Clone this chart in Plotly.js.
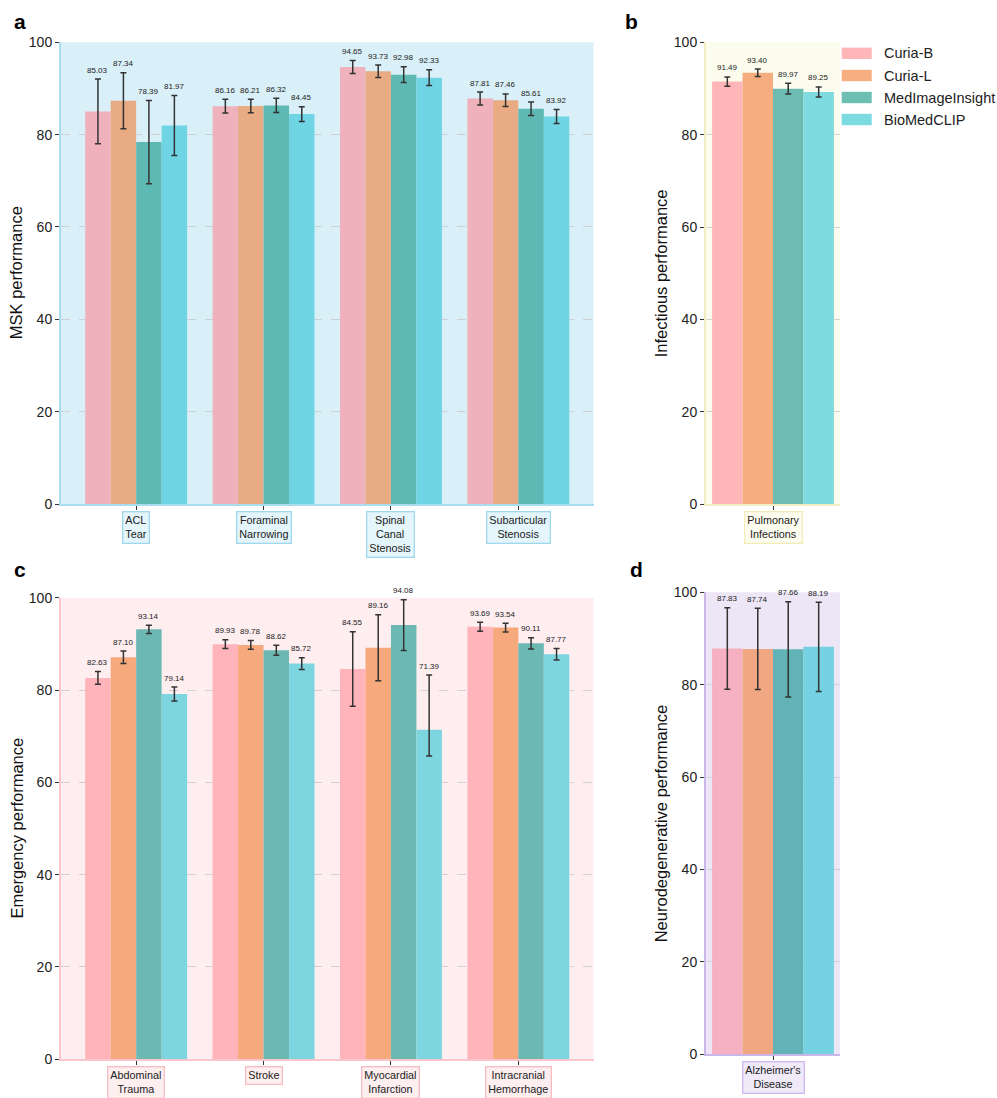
<!DOCTYPE html>
<html>
<head>
<meta charset="utf-8">
<script src="https://cdn.plot.ly/plotly-3.0.1.min.js"></script>
<style>html,body{margin:0;padding:0;background:#fff;}#chart{width:997px;height:1098px;}</style>
</head>
<body>
<div id="chart"></div>
<script>
// ---------- DATA ----------
const models = ["Curia-B", "Curia-L", "MedImageInsight", "BioMedCLIP"];

const mskCategories = ["ACL<br>Tear", "Foraminal<br>Narrowing", "Spinal<br>Canal<br>Stenosis", "Subarticular<br>Stenosis"];
const mskCuriaB = [85.03, 86.16, 94.65, 87.81];
const mskCuriaL = [87.34, 86.21, 93.73, 87.46];
const mskMII    = [78.39, 86.32, 92.98, 85.61];
const mskBMC    = [81.97, 84.45, 92.33, 83.92];
const mskErrCuriaB = [7.0, 1.5, 1.4, 1.4];
const mskErrCuriaL = [6.05, 1.45, 1.35, 1.35];
const mskErrMII    = [9.0, 1.55, 1.7, 1.45];
const mskErrBMC    = [6.5, 1.6, 1.7, 1.5];

const infCategories = ["Pulmonary<br>Infections"];
const infCuriaB = [91.49];
const infCuriaL = [93.40];
const infMII    = [89.97];
const infBMC    = [89.25];
const infErrCuriaB = [1.0];
const infErrCuriaL = [0.8];
const infErrMII    = [1.15];
const infErrBMC    = [1.1];

const emCategories = ["Abdominal<br>Trauma", "Stroke", "Myocardial<br>Infarction", "Intracranial<br>Hemorrhage"];
const emCuriaB = [82.63, 89.93, 84.55, 93.69];
const emCuriaL = [87.10, 89.78, 89.16, 93.54];
const emMII    = [93.14, 88.62, 94.08, 90.11];
const emBMC    = [79.14, 85.72, 71.39, 87.77];
const emErrCuriaB = [1.4, 0.95, 8.05, 0.97];
const emErrCuriaL = [1.35, 0.95, 7.15, 0.95];
const emErrMII    = [0.9, 1.1, 5.5, 1.2];
const emErrBMC    = [1.5, 1.25, 11.86, 1.25];
const emErrBMCLow = [1.5, 1.25, 5.7, 1.25];

const neuCategories = ["Alzheimer's<br>Disease"];
const neuCuriaB = [87.83];
const neuCuriaL = [87.74];
const neuMII    = [87.66];
const neuBMC    = [88.19];
const neuErrCuriaB = [8.83];
const neuErrCuriaL = [8.8];
const neuErrMII    = [10.3];
const neuErrBMC    = [9.65];

const yTicks = [0, 20, 40, 60, 80, 100];
const legendColors = ["#ffb6b9", "#f7ae80", "#6dbfb3", "#7cdae1"];

// ---------- STYLE ----------
const W = 997, H = 1098;
const FONT = "Liberation Sans, Arial, Helvetica, sans-serif";
const px2x = p => p / W;
const py2y = p => 1 - p / H;

const panels = [
  {
    id: "", letter: "a", cats: mskCategories,
    vals: [mskCuriaB, mskCuriaL, mskMII, mskBMC],
    errs: [mskErrCuriaB, mskErrCuriaL, mskErrMII, mskErrBMC],
    errsLow: [mskErrCuriaB, mskErrCuriaL, mskErrMII, mskErrBMC],
    colors: ["#efb2bc", "#e8ab84", "#5eb8b3", "#6fd5e4"],
    bg: "#daf0f8", spine: "#a9dcef", boxBorder: "#9fd8ee", boxBg: "#e4f5fb",
    xpx: [61, 593.5], ypx: [42.3, 504], range: [-0.59, 3.59],
    title: "MSK performance", titleX: 16, letterX: 12, letterY: 21
  },
  {
    id: "2", letter: "b", cats: infCategories,
    vals: [infCuriaB, infCuriaL, infMII, infBMC],
    errs: [infErrCuriaB, infErrCuriaL, infErrMII, infErrBMC],
    errsLow: [infErrCuriaB, infErrCuriaL, infErrMII, infErrBMC],
    colors: ["#ffb6b8", "#f5ad80", "#6cbcb1", "#7edbe0"],
    bg: "#fcfcee", spine: "#f2eec4", boxBorder: "#f1ecb8", boxBg: "#fdfdef",
    xpx: [706, 840], ypx: [42.3, 504.3], range: [-0.44, 0.44],
    title: "Infectious performance", titleX: 661, letterX: 623, letterY: 21
  },
  {
    id: "3", letter: "c", cats: emCategories,
    vals: [emCuriaB, emCuriaL, emMII, emBMC],
    errs: [emErrCuriaB, emErrCuriaL, emErrMII, emErrBMC],
    errsLow: [emErrCuriaB, emErrCuriaL, emErrMII, emErrBMCLow],
    colors: ["#ffb3ba", "#f5a97d", "#6bb9b2", "#7dd6df"],
    bg: "#ffeef0", spine: "#f8c6cc", boxBorder: "#f6bcc3", boxBg: "#fdeef0",
    xpx: [61, 593.5], ypx: [597.7, 1059.3], range: [-0.59, 3.59],
    title: "Emergency performance", titleX: 16, letterX: 12, letterY: 569.5
  },
  {
    id: "4", letter: "d", cats: neuCategories,
    vals: [neuCuriaB, neuCuriaL, neuMII, neuBMC],
    errs: [neuErrCuriaB, neuErrCuriaL, neuErrMII, neuErrBMC],
    errsLow: [neuErrCuriaB, neuErrCuriaL, neuErrMII, neuErrBMC],
    colors: ["#f5b1c1", "#f1a781", "#62b3b5", "#75d2e2"],
    bg: "#ece6f6", spine: "#c9b7ea", boxBorder: "#cdb8ef", boxBg: "#efe9f8",
    xpx: [706, 840], ypx: [592.3, 1054.3], range: [-0.44, 0.44],
    title: "Neurodegenerative performance", titleX: 661, letterX: 628, letterY: 569.5
  }
];

const data = [];
const shapes = [];
const annotations = [];
const layout = {
  width: W, height: H,
  margin: {l: 0, r: 0, t: 0, b: 0},
  paper_bgcolor: "#ffffff",
  plot_bgcolor: "rgba(0,0,0,0)",
  barmode: "overlay",
  showlegend: false,
  font: {family: FONT, color: "#222"},
  shapes: shapes,
  annotations: annotations
};

panels.forEach(p => {
  const xa = "x" + p.id, ya = "y" + p.id;
  const idx = p.cats.map((c, i) => i);
  p.vals.forEach((v, k) => {
    data.push({
      type: "bar", x: idx, y: v, width: 0.2, offset: -0.4 + 0.2 * k,
      name: models[k], xaxis: xa, yaxis: ya,
      marker: {color: p.colors[k], line: {width: 0}},
      error_y: {type: "data", symmetric: false, array: p.errs[k], arrayminus: p.errsLow[k],
                color: "#333333", thickness: 1.5, width: 3},
      hoverinfo: "skip", showlegend: false
    });
    v.forEach((val, i) => {
      annotations.push({
        xref: xa, yref: ya, x: i - 0.3 + 0.2 * k, y: val + p.errs[k][i],
        yshift: 9, text: val.toFixed(2), showarrow: false,
        xanchor: "center", yanchor: "middle",
        font: {family: FONT, size: 8, color: "#222"}
      });
    });
  });
  // background
  shapes.push({type: "rect", xref: xa + " domain", yref: ya + " domain", x0: 0, x1: 1, y0: 0, y1: 1,
               fillcolor: p.bg, line: {width: 0}, layer: "below"});
  const xk = "xaxis" + p.id, yk = "yaxis" + p.id;
  layout[xk] = {
    domain: [px2x(p.xpx[0]), px2x(p.xpx[1])], range: p.range, anchor: ya,
    tickvals: idx, showticklabels: false, ticks: "outside", ticklen: 4, tickwidth: 1, tickcolor: "#333",
    showgrid: false, zeroline: false, showline: true, linecolor: p.spine, linewidth: 1.5, fixedrange: true
  };
  layout[yk] = {
    domain: [py2y(p.ypx[1]), py2y(p.ypx[0])], range: [0, 100], anchor: xa,
    tickvals: yTicks, ticks: "outside", ticklen: 4, tickwidth: 1, tickcolor: "#333",
    tickfont: {family: FONT, size: 14, color: "#222"},
    showgrid: true, gridcolor: "#c9c9c9", griddash: "dash", gridwidth: 0.8,
    zeroline: false, showline: true, linecolor: p.spine, linewidth: 2, fixedrange: true
  };
  // category label boxes
  p.cats.forEach((c, i) => {
    annotations.push({
      xref: xa, yref: "paper", x: i, y: py2y(p.ypx[1]), yshift: -7,
      xanchor: "center", yanchor: "top", text: c, showarrow: false, align: "center",
      font: {family: FONT, size: 10.8, color: "#222"},
      bordercolor: p.boxBorder, borderwidth: 1.3, borderpad: 2, bgcolor: p.boxBg
    });
  });
  // y title
  annotations.push({
    xref: "paper", yref: "paper", x: px2x(p.titleX), y: py2y((p.ypx[0] + p.ypx[1]) / 2),
    xanchor: "center", yanchor: "middle", textangle: -90, text: p.title, showarrow: false,
    font: {family: FONT, size: 16.5, color: "#111"}
  });
  // panel letter
  annotations.push({
    xref: "paper", yref: "paper", x: px2x(p.letterX), y: py2y(p.letterY),
    xanchor: "left", yanchor: "middle", text: "<b>" + p.letter + "</b>", showarrow: false,
    font: {family: FONT, size: 21, color: "#000"}
  });
});

// custom legend
const legendRows = [53.3, 75.5, 97.5, 119.5];
models.forEach((m, k) => {
  shapes.push({type: "rect", xref: "paper", yref: "paper",
               x0: px2x(841.7), x1: px2x(871.7), y0: py2y(legendRows[k] + 5.7), y1: py2y(legendRows[k] - 5.7),
               fillcolor: legendColors[k], line: {width: 0}});
  annotations.push({xref: "paper", yref: "paper", x: px2x(882), y: py2y(legendRows[k]),
                    xanchor: "left", yanchor: "middle", text: m, showarrow: false,
                    font: {family: FONT, size: 14.5, color: "#222"}});
});

Plotly.newPlot("chart", data, layout, {displayModeBar: false, staticPlot: true});
</script>
</body>
</html>
